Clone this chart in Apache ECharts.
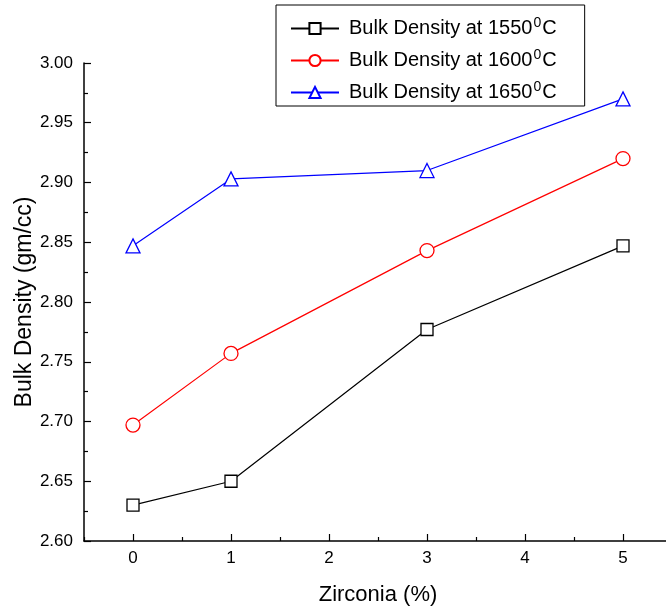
<!DOCTYPE html>
<html>
<head>
<meta charset="utf-8">
<script src="https://cdn.jsdelivr.net/npm/echarts@6/dist/echarts.min.js"></script>
<style>html,body{margin:0;padding:0;background:#fff}#c{width:666px;height:607px}</style>
</head>
<body>
<div id="c"></div>
<script>
var zirconia = [0, 1, 3, 5];
var bd1550 = [2.630, 2.650, 2.777, 2.847];
var bd1600 = [2.697, 2.757, 2.843, 2.920];
var bd1650 = [2.847, 2.903, 2.910, 2.970];
var seriesNames = ['{t|Bulk Density at 1550}{sup|0}{t|C}', '{t|Bulk Density at 1600}{sup|0}{t|C}', '{t|Bulk Density at 1650}{sup|0}{t|C}'];
var xMajorTicks = [0, 1, 2, 3, 4, 5];
var xMinorTicks = [-0.5, 0.5, 1.5, 2.5, 3.5, 4.5, 5.5];

function pairs(xs, ys) { return xs.map(function (x, i) { return [x, ys[i]]; }); }

var font = 'Arial, "Liberation Sans", sans-serif';
var chart = echarts.init(document.getElementById('c'), null, { renderer: 'canvas' });
function mk(name, data, color, symbol, size) {
  return {
    name: name, type: 'line', data: data, xAxisIndex: 0,
    symbol: symbol, symbolSize: size, showAllSymbol: true,
    lineStyle: { color: color, width: 1.2 },
    itemStyle: { color: '#fff', borderColor: color, borderWidth: 1.3 },
    emphasis: { disabled: true }, animation: false, z: 3
  };
}
chart.setOption({
  animation: false,
  grid: { left: 84, top: 63, bottom: 66, right: -6, containLabel: false, outerBoundsMode: 'none' },
  legend: {
    left: 276, top: 5, orient: 'vertical',
    padding: [11, 28, 2, 14], itemGap: 8,
    borderColor: '#000', borderWidth: 1, backgroundColor: '#fff',
    itemWidth: 48, itemHeight: 14,
    textStyle: {
      fontFamily: font, fontSize: 20, color: '#000', padding: [0, 0, 0, 5],
      rich: {
        t: { fontFamily: font, fontSize: 20, color: '#000', lineHeight: 25 },
        sup: { fontFamily: font, fontSize: 14, color: '#000', verticalAlign: 'top', padding: [0, 1, 10, 1], lineHeight: 25 }
      }
    },
    data: seriesNames.map(function (n) { return { name: n }; })
  },
  xAxis: [{
    type: 'value', min: -0.5, max: 5.5,
    name: 'Zirconia (%)', nameLocation: 'middle', nameGap: 43, nameMoveOverlap: false,
    nameTextStyle: { fontFamily: font, fontSize: 22, color: '#000' },
    axisLine: { onZero: false, lineStyle: { color: '#000', width: 1.5 } },
    axisTick: { inside: true, length: 7, customValues: xMajorTicks, lineStyle: { color: '#000', width: 1.2 } },
    axisLabel: { customValues: xMajorTicks, fontFamily: font, fontSize: 17, color: '#000', margin: 9 },
    splitLine: { show: false }
  }, {
    type: 'value', min: -0.5, max: 5.5, position: 'bottom',
    axisLine: { show: false, onZero: false },
    axisTick: { inside: true, length: 4, customValues: xMinorTicks, lineStyle: { color: '#000', width: 1.2 } },
    axisLabel: { show: false }, splitLine: { show: false }
  }],
  yAxis: {
    type: 'value', min: 2.6, max: 3.0, interval: 0.05,
    name: 'Bulk Density (gm/cc)', nameLocation: 'middle', nameGap: 48, nameRotate: 90, nameMoveOverlap: false,
    nameTextStyle: { fontFamily: font, fontSize: 23, color: '#000' },
    axisLine: { show: true, onZero: false, lineStyle: { color: '#000', width: 1.5 } },
    axisTick: { show: true, inside: true, length: 7, lineStyle: { color: '#000', width: 1.2 } },
    minorTick: { show: true, splitNumber: 2, length: 4, lineStyle: { color: '#000', width: 1.2 } },
    axisLabel: { fontFamily: font, fontSize: 17, color: '#000', margin: 11, formatter: function (v) { return v.toFixed(2); } },
    splitLine: { show: false }, minorSplitLine: { show: false }
  },
  series: [
    mk(seriesNames[0], pairs(zirconia, bd1550), '#000', 'rect', 12),
    mk(seriesNames[1], pairs(zirconia, bd1600), '#ff0000', 'circle', 14),
    mk(seriesNames[2], pairs(zirconia, bd1650), '#0000ff', 'triangle', 14)
  ]
});
</script>
</body>
</html>
